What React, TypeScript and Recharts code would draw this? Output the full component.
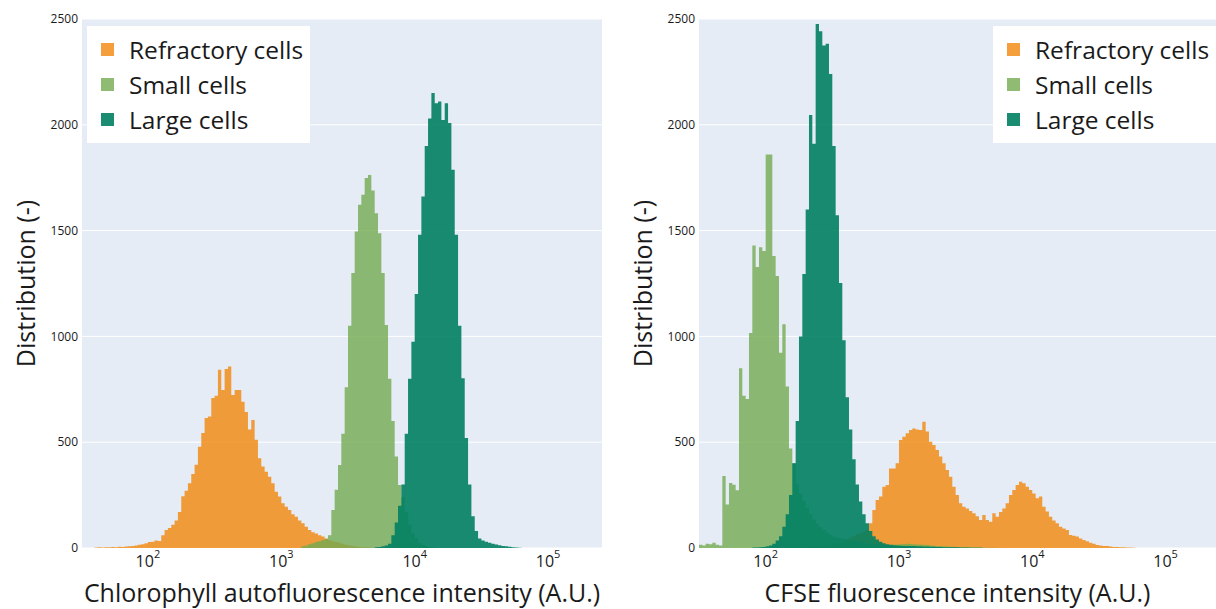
import { AreaChart, Area, XAxis, YAxis, CartesianGrid, Legend } from 'recharts'

const FONT = '"Open Sans", sans-serif'
const INK = '#1a1a1a'
const PLOT_BG = '#E5ECF6'

// histogram bins are equal-width in log10(intensity)
const BIN_START = 1.5
const BIN_WIDTH = 0.025
const BIN_COUNT = 141

const xTicks = [100, 1000, 10000, 100000]
const yTicks = [0, 500, 1000, 1500, 2000, 2500]

const seriesStyle = [
  { key: 'refractory', name: 'Refractory cells', color: '#F1870A', opacity: 0.8 },
  { key: 'small', name: 'Small cells', color: '#73AA50', opacity: 0.8 },
  { key: 'large', name: 'Large cells', color: '#007F62', opacity: 0.9 },
]

// Chlorophyll autofluorescence (left panel), counts per bin starting at the given log10 edge
const chloroRefractoryStart = 1.6
const chloroRefractory = [
  2, 3, 2, 4, 3, 5, 4, 6, 5, 7, 8, 10, 12, 15, 18, 22,
  28, 30, 35, 33, 60, 85, 95, 110, 130, 170, 245, 270, 306, 350, 393, 479,
  543, 614, 621, 709, 720, 842, 747, 846, 858, 723, 747, 747, 691, 643, 560, 605,
  511, 424, 385, 360, 337, 306, 266, 243, 211, 195, 180, 160, 148, 130, 117, 100,
  85, 75, 69, 60, 54, 45, 38, 32, 28, 25, 20, 15, 12, 9, 7, 5, 4, 3, 2, 1,
]
const chloroSmallStart = 3.15
const chloroSmall = [
  8, 12, 18, 22, 28, 32, 38, 42, 60, 180, 275, 392, 540, 760, 1050, 1300,
  1496, 1622, 1670, 1748, 1763, 1690, 1582, 1488, 1300, 1054, 800, 600, 432, 298, 240, 170,
  110, 70, 45, 25, 15, 8, 4, 2,
]
const chloroLargeStart = 3.7
const chloroLarge = [
  3, 5, 8, 12, 20, 60, 120, 200, 300, 540, 800, 975, 1200, 1480, 1661, 1900,
  2030, 2150, 2102, 2110, 2023, 2102, 2008, 1787, 1480, 1050, 802, 520, 300, 150, 80, 45,
  35, 30, 25, 20, 16, 13, 10, 8, 6, 4, 2, 1,
]

// CFSE fluorescence (right panel)
const cfseRefractoryStart = 2.25
const cfseRefractory = [
  3, 4, 5, 6, 7, 8, 9, 10, 12, 14, 17, 20, 25, 32, 40, 48,
  56, 64, 72, 78, 85, 117, 180, 227, 243, 290, 298, 376, 376, 400, 510, 526,
  542, 558, 565, 560, 558, 597, 550, 502, 487, 463, 432, 400, 369, 337, 290, 250,
  211, 195, 187, 175, 164, 150, 132, 156, 132, 124, 164, 148, 170, 187, 211, 250,
  274, 298, 313, 306, 290, 274, 258, 235, 243, 195, 172, 148, 130, 117, 101, 92,
  85, 61, 58, 54, 45, 38, 32, 25, 20, 14, 12, 10, 9, 7, 5, 5, 4, 3, 2, 2, 1,
]
const cfseSmallStart = 1.5
const cfseSmall = [
  15, 12, 20, 18, 25, 15, 12, 340, 205, 307, 299, 273, 850, 720, 704, 1016,
  1430, 1328, 1421, 1404, 1860, 1860, 1380, 1286, 923, 1058, 763, 470, 400, 300, 257, 223,
  189, 160, 135, 115, 98, 85, 72, 62, 54, 50, 46, 43, 40, 37, 34, 31,
  29, 26, 23, 20, 18, 17, 16, 16, 15, 15, 16, 17, 18, 19, 20, 19,
  18, 17, 16, 15, 14, 12, 11, 10, 9, 8, 7, 6, 6, 5, 4, 4, 3, 3, 2, 2, 2, 1, 1, 1, 1,
]
const cfseLargeStart = 1.9
const cfseLarge = [
  2, 2, 3, 5, 8, 12, 20, 35, 55, 100, 160, 250, 400, 600, 999, 1295,
  1600, 2046, 1911, 2476, 2442, 2375, 2383, 2240, 1900, 1573, 1252, 982, 712, 560, 420, 300,
  220, 160, 117, 80, 55, 40, 30, 22, 18, 15, 13, 12, 11, 10, 10, 9,
  9, 8, 8, 7, 7, 6, 6, 5, 5, 4, 4, 3, 3, 3, 2, 2, 2, 1, 1, 1, 1,
]

type Series = { key: string; start: number; counts: number[] }

function buildRows(series: Series[]) {
  const rows: Record<string, number>[] = []
  for (let i = 0; i < BIN_COUNT; i++) {
    const row: Record<string, number> = { x: 10 ** (BIN_START + i * BIN_WIDTH) }
    for (const s of series) {
      const j = i - Math.round((s.start - BIN_START) / BIN_WIDTH)
      row[s.key] = j >= 0 && j < s.counts.length ? s.counts[j] : 0
    }
    rows.push(row)
  }
  return rows
}

const chloroRows = buildRows([
  { key: 'refractory', start: chloroRefractoryStart, counts: chloroRefractory },
  { key: 'small', start: chloroSmallStart, counts: chloroSmall },
  { key: 'large', start: chloroLargeStart, counts: chloroLarge },
])
const cfseRows = buildRows([
  { key: 'refractory', start: cfseRefractoryStart, counts: cfseRefractory },
  { key: 'small', start: cfseSmallStart, counts: cfseSmall },
  { key: 'large', start: cfseLargeStart, counts: cfseLarge },
])

function PowerTick({ x, y, payload }: any) {
  const exponent = Math.round(Math.log10(payload.value))
  return (
    <text x={x} y={y + 19} textAnchor="middle" fontFamily={FONT} fill={INK}>
      <tspan fontSize={16}>10</tspan>
      <tspan fontSize={11} dy={-9}>{exponent}</tspan>
    </text>
  )
}

function XTitle({ viewBox, text }: any) {
  return (
    <text x={viewBox.x + viewBox.width / 2} y={viewBox.y + 54} textAnchor="middle"
      fontFamily={FONT} fontSize={25} fill={INK}>
      {text}
    </text>
  )
}

function YTitle({ viewBox }: any) {
  return (
    <text transform={`translate(35, ${viewBox.y + viewBox.height / 2}) rotate(-90)`} textAnchor="middle"
      fontFamily={FONT} fontSize={25} fill={INK}>
      Distribution (-)
    </text>
  )
}

function LegendBox() {
  return (
    <div style={{ background: '#fff', width: 223, padding: '6px 0', fontFamily: FONT }}>
      {seriesStyle.map(s => (
        <div key={s.key} style={{ display: 'flex', alignItems: 'center', height: 35 }}>
          <span style={{ width: 13, height: 13, marginLeft: 14, background: s.color, opacity: s.opacity }} />
          <span style={{ marginLeft: 15, fontSize: 24.5, color: INK, lineHeight: '35px' }}>{s.name}</span>
        </div>
      ))}
    </div>
  )
}

interface PanelProps {
  rows: Record<string, number>[]
  width: number
  right: number
  logDomain: [number, number]
  xTitle: string
  legendLeft: number
}

function HistogramPanel({ rows, width, right, logDomain, xTitle, legendLeft }: PanelProps) {
  return (
    <AreaChart width={width} height={609} data={rows} margin={{ top: 19, right, bottom: 0, left: 0 }}>
      <CartesianGrid vertical={false} stroke="#fff" strokeWidth={1} fill={PLOT_BG} fillOpacity={1} />
      <XAxis type="number" dataKey="x" scale="log" domain={[10 ** logDomain[0], 10 ** logDomain[1]]}
        allowDataOverflow ticks={xTicks} interval={0} height={61} axisLine={false} tickLine={false}
        tickSize={0} tickMargin={0} tick={<PowerTick />} label={<XTitle text={xTitle} />} />
      <YAxis type="number" domain={[0, 2500]} ticks={yTicks} interval={0} width={82}
        axisLine={false} tickLine={false} tickSize={0} tickMargin={4}
        tick={{ fontSize: 12, fill: INK, fontFamily: FONT }} label={<YTitle />} />
      {seriesStyle.map(s => (
        <Area key={s.key} dataKey={s.key} name={s.name} type="stepAfter" stroke="none"
          fill={s.color} fillOpacity={s.opacity} dot={false} activeDot={false} isAnimationActive={false} />
      ))}
      <Legend layout="vertical" align="center" verticalAlign="middle" content={() => <LegendBox />}
        wrapperStyle={{ left: legendLeft, top: 26, width: 223 }} />
    </AreaChart>
  )
}

export default function App() {
  return (
    <div style={{ position: 'fixed', left: 0, top: 0, width: 1216, height: 609, background: '#fff' }}>
      <div style={{ position: 'absolute', left: 0, top: 0 }}>
        <HistogramPanel rows={chloroRows} width={604} right={2} logDomain={[1.506, 5.404]}
          xTitle="Chlorophyll autofluorescence intensity (A.U.)" legendLeft={87} />
      </div>
      <div style={{ position: 'absolute', left: 617, top: 0 }}>
        <HistogramPanel rows={cfseRows} width={599} right={0} logDomain={[1.5, 5.378]}
          xTitle="CFSE fluorescence intensity (A.U.)" legendLeft={376} />
      </div>
    </div>
  )
}
